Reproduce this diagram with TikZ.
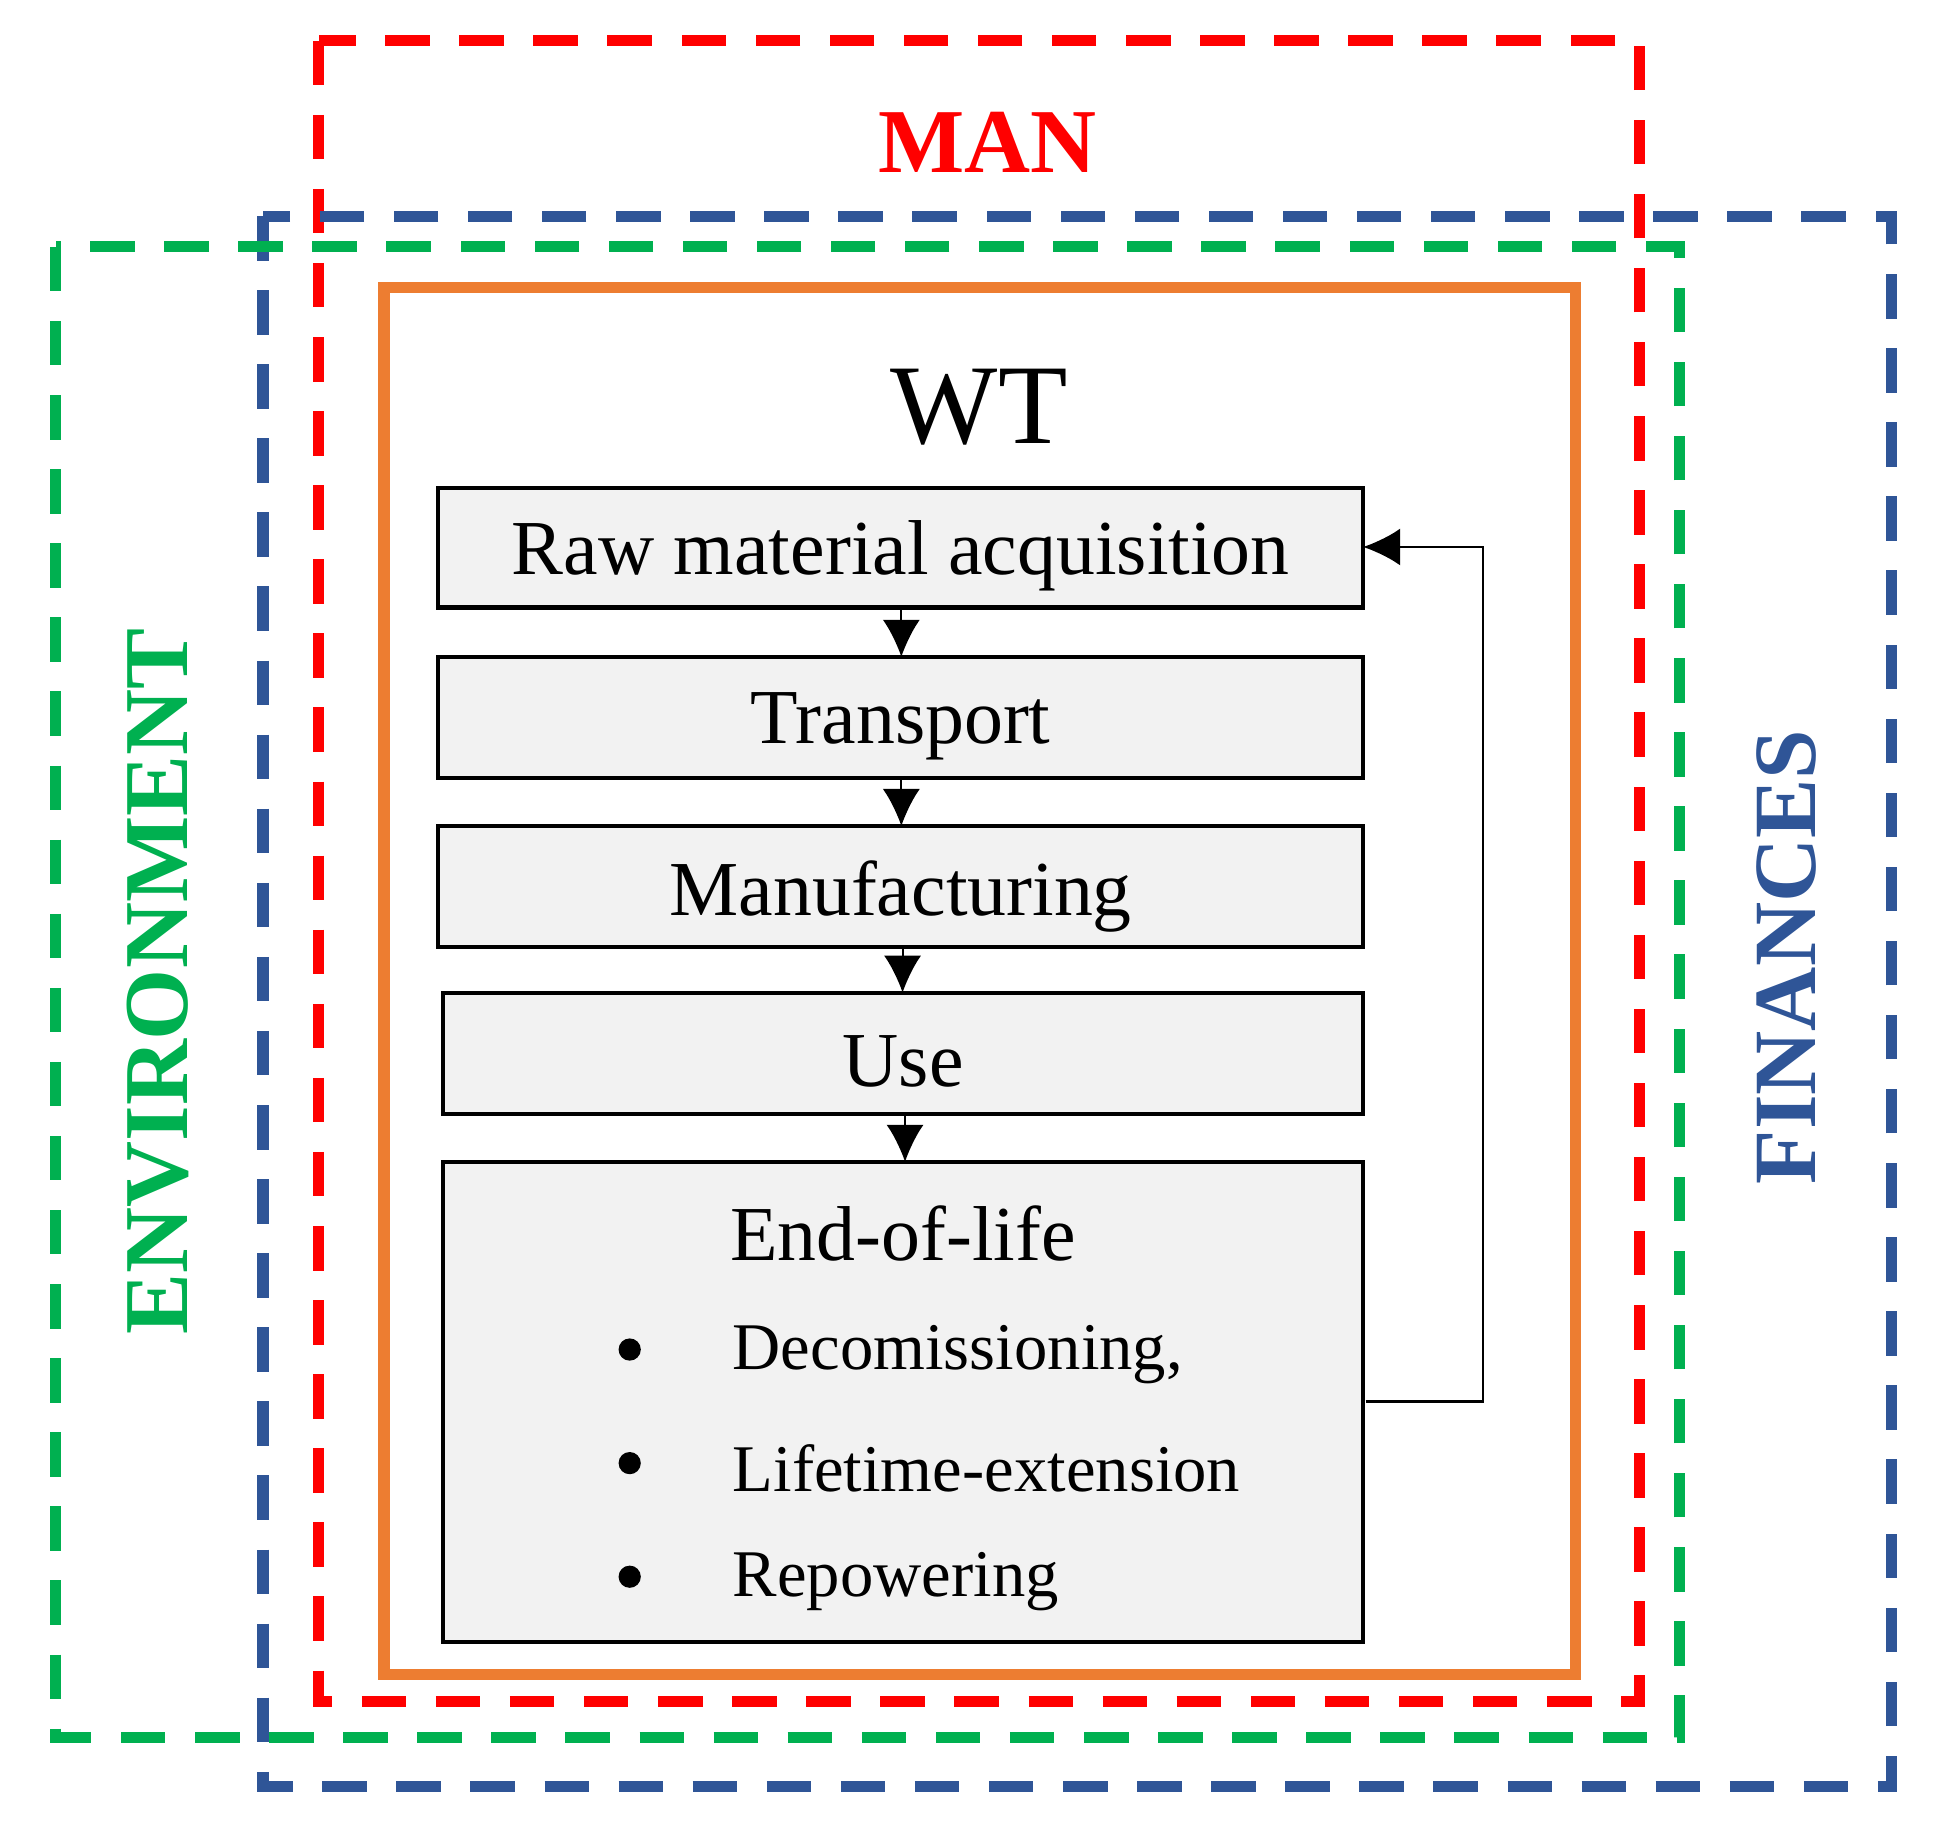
\documentclass[tikz,border=0pt]{standalone}
\usetikzlibrary{arrows.meta}
\usepackage{fontspec}
\setmainfont{Liberation Serif}
\definecolor{cred}{RGB}{255,0,0}
\definecolor{cblue}{RGB}{47,85,151}
\definecolor{cgreen}{RGB}{0,176,80}
\definecolor{corange}{RGB}{237,125,49}
\definecolor{cgray}{RGB}{242,242,242}
\begin{document}
\begin{tikzpicture}[x=1pt,y=-1pt,
  dsh/.style={line width=9pt,dash pattern=on 36pt off 24pt},
  box/.style={draw=black,line width=3.5pt,fill=cgray},
  arr/.style={line width=1.5pt,-{Latex[length=30pt,width=30pt]}},
  txt/.style={font=\fontsize{63}{69}\selectfont}]
\useasboundingbox (0,0) rectangle (1568,1482);
\draw[dsh,cred] (258,33) rectangle (1328,1378);
\draw[dsh,cblue] (213,175) rectangle (1532,1447);
\draw[dsh,cgreen] (45,200) rectangle (1360,1407);
\draw[line width=9pt,corange] (311,233) rectangle (1276,1356);
\node[cred,font=\bfseries\fontsize{74}{80}\selectfont] (man) at (800,115) {MAN};
\node[font=\fontsize{92}{98}\selectfont] (wt) at (793,330) {WT};
\node[cgreen,font=\bfseries\fontsize{74}{80}\selectfont,rotate=90] (env) at (128,795) {ENVIRONMENT};
\node[cblue,font=\bfseries\fontsize{72}{78}\selectfont,rotate=90] (fin) at (1447,775) {FINANCES};
\draw[box] (355,395) rectangle (1104,492);
\node[txt] (raw) at (729.5,450) {Raw material acquisition};
\draw[box] (355,532) rectangle (1104,630);
\node[txt] (tr) at (729.5,588) {Transport};
\draw[box] (355,669) rectangle (1104,767);
\node[txt] (mf) at (729.5,726) {Manufacturing};
\draw[box] (359,804) rectangle (1104,902);
\node[txt] (use) at (731.5,860) {Use};
\draw[box] (359,941) rectangle (1104,1330);
\node[txt] (eol) at (731.5,999) {End-of-life};
\foreach \y/\t in {1093/{Decomissioning,},1185/{Lifetime-extension},1277/{Repowering}}{
  \fill (510,\y) circle (9);
  \node[txt,anchor=west,font=\fontsize{54}{60}\selectfont] at (590,\y+4) {\t};
}
\coordinate (a1) at (730,492); \coordinate (b1) at (730,532);
\coordinate (a2) at (730,630); \coordinate (b2) at (730,669);
\coordinate (a3) at (731,767); \coordinate (b3) at (731,804);
\coordinate (a4) at (733,902); \coordinate (b4) at (733,941);
\foreach \i in {1,2,3,4}{\draw[arr] (a\i) -- (b\i);}
\coordinate (s) at (1106,1135); \coordinate (e) at (1104,443);
\draw[arr,line width=2pt] (s) -- (1201,1135) -- (1201,443) -- (e);
\end{tikzpicture}
\end{document}
